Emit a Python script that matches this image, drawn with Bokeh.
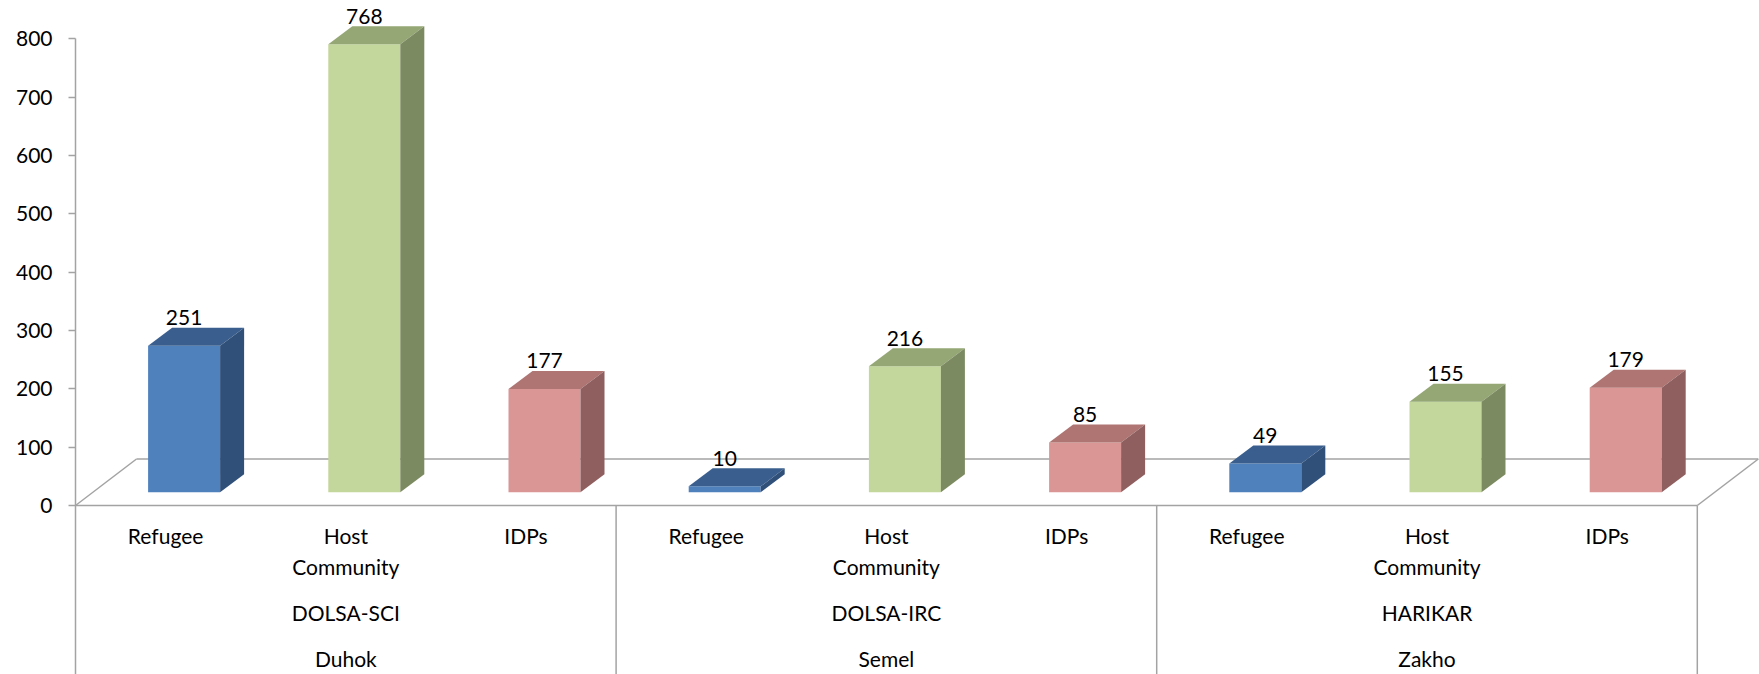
from bokeh.plotting import figure
from bokeh.models import Range1d, FixedTicker
from bokeh.embed import file_html
from bokeh.resources import INLINE
from bokeh.core.properties import value

# ---------------- data ----------------
regions = ["Duhok", "Semel", "Zakho"]
partners = ["DOLSA-SCI", "DOLSA-IRC", "HARIKAR"]
series_names = ["Refugee", "Host Community", "IDPs"]
refugee = [251, 10, 49]
host_community = [768, 216, 155]
idps = [177, 85, 179]
y_ticks = [0, 100, 200, 300, 400, 500, 600, 700, 800]

series_values = [refugee, host_community, idps]
front_colors = ["#4F81BD", "#C3D69B", "#D99694"]
top_colors = ["#3A5F8E", "#95A775", "#AE7573"]
side_colors = ["#30507A", "#7C8A61", "#8E5F5E"]

# ---------------- layout ----------------
LEFT = 75
W, H = 1759, 674
FW, FH = W - LEFT, H
PPX = 180.2           # pixels per category
PPY = 0.5833          # pixels per value unit
ZERO_ROW = 505        # pixel row of value 0
TEXT_SHIFT = 9        # baseline correction of text glyphs (pixels)
X0, X1 = 0.0, FW / PPX
Y1 = ZERO_ROW / PPY
Y0 = Y1 - FH / PPY


def dxp(px):
    return px / PPX


def dyp(px):
    return px / PPY


def y_at(sy):
    return Y1 - (sy - TEXT_SHIFT) / PPY


FONT = "Lato"
GRAY = "#A3A3A3"

p = figure(frame_width=FW, frame_height=FH, x_range=Range1d(X0, X1),
           y_range=Range1d(Y0, Y1), output_backend="svg", toolbar_location=None,
           x_axis_location=None, min_border_left=LEFT, min_border_right=0,
           min_border_top=0, min_border_bottom=0)
p.outline_line_color = None
p.grid.visible = False
p.background_fill_color = "white"

ax = p.yaxis[0]
ax.ticker = FixedTicker(ticks=y_ticks)
ax.bounds = (Y0, max(y_ticks))
ax.axis_line_color = GRAY
ax.axis_line_width = 1.5
ax.major_tick_line_color = GRAY
ax.major_tick_line_width = 1.5
ax.major_tick_out = 7
ax.major_tick_in = 0
ax.minor_tick_line_color = None
ax.major_label_standoff = 16
ax.major_label_text_font = FONT
ax.major_label_text_font_size = "21px"
ax.major_label_text_color = "black"

n_cat = len(series_names) * len(partners)

# floor (3D base)
fdx, fdy = dxp(61), dyp(46.5)
p.multi_line(xs=[[0, n_cat], [fdx, n_cat + fdx], [0, fdx], [n_cat, n_cat + fdx]],
             ys=[[0, 0], [fdy, fdy], [0, fdy], [0, fdy]],
             line_color=GRAY, line_width=1.5)

# separators of the category table
seps = [3 * (g + 1) for g in range(len(partners))]
p.segment(x0=seps, y0=[0] * len(seps), x1=seps, y1=[Y0] * len(seps),
          line_color=GRAY, line_width=1.5)

# bars
off, hw = dxp(18.5), dxp(36)
base = dyp(13.3)
bdx, bdy = dxp(24), dyp(18)

for s, vals in enumerate(series_values):
    lefts, rights, tops, bots = [], [], [], []
    top_xs, top_ys, side_xs, side_ys = [], [], [], []
    lx, ly, lt = [], [], []
    for g, v in enumerate(vals):
        i = 3 * g + s
        c = i + 0.5 + off
        l, r = c - hw, c + hw
        b, t = base, base + v
        lefts.append(l); rights.append(r); bots.append(b); tops.append(t)
        top_xs.append([l, r, r + bdx, l + bdx])
        top_ys.append([t, t, t + bdy, t + bdy])
        side_xs.append([r, r + bdx, r + bdx, r])
        side_ys.append([b, b + bdy, t + bdy, t])
        lx.append(c); ly.append(t + bdy + dyp(1 + TEXT_SHIFT)); lt.append(str(v))
    p.quad(left=lefts, right=rights, bottom=bots, top=tops,
           fill_color=front_colors[s], line_color=None)
    p.patches(xs=top_xs, ys=top_ys, fill_color=top_colors[s], line_color=None)
    p.patches(xs=side_xs, ys=side_ys, fill_color=side_colors[s], line_color=None)
    p.text(x=lx, y=ly, text=lt, text_align="center", text_baseline="alphabetic",
           text_font=value(FONT), text_font_size="21px", text_color="black")

# category labels (level 1)
row_y = [y_at(544), y_at(575)]
cx, cy, ct = [], [], []
for g in range(len(partners)):
    for s, name in enumerate(series_names):
        for k, w in enumerate(name.split(" ")):
            cx.append(3 * g + s + 0.5)
            cy.append(row_y[k])
            ct.append(w)
p.text(x=cx, y=cy, text=ct, text_align="center", text_baseline="alphabetic",
       text_font=value(FONT), text_font_size="21px", text_color="black")

# partner labels (level 2) and region labels (level 3)
gx = [3 * g + 1.5 for g in range(len(partners))]
p.text(x=gx, y=[y_at(621)] * len(gx), text=partners, text_align="center",
       text_baseline="alphabetic", text_font=value(FONT), text_font_size="21px",
       text_color="black")
p.text(x=gx, y=[y_at(667)] * len(gx), text=regions, text_align="center",
       text_baseline="alphabetic", text_font=value(FONT), text_font_size="21px",
       text_color="black")

open("out.html", "w").write(file_html(p, INLINE))
